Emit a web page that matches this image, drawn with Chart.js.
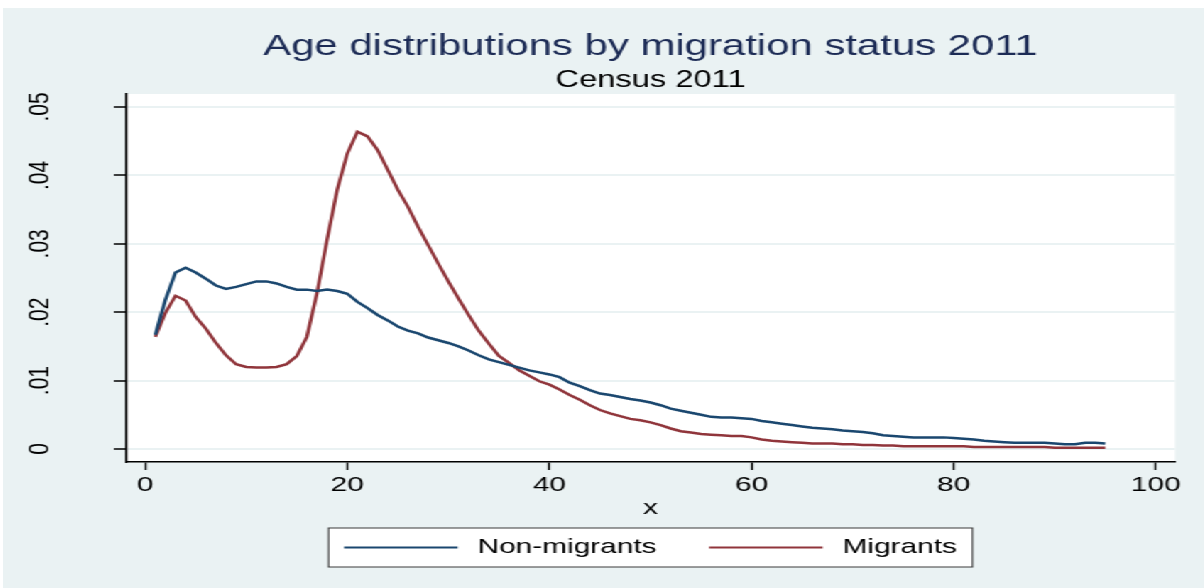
<!DOCTYPE html>
<html>
<head>
<meta charset="utf-8">
<title>Age distributions by migration status 2011</title>
<script src="https://cdn.jsdelivr.net/npm/chart.js@4.4.1/dist/chart.umd.min.js"></script>
<style>
    html, body { margin: 0; padding: 0; background: #ffffff; }
    body { width: 1204px; height: 588px; overflow: hidden; position: relative; }
    /* graph is laid out narrow and stretched sideways, like the exported graph */
    #wrap {
        position: absolute; left: 3px; top: 8px;
        width: 846px; height: 580px;
        background: #eaf2f3;
        transform: scaleX(1.42); transform-origin: 0 0;
    }
</style>
</head>
<body>
<div id="wrap"><canvas id="ageChart"></canvas></div>
<script>
// --- Data: kernel density of age, by migration status ---
const ages = [];
for (let a = 1; a <= 95; a++) ages.push(a);

const nonMigrants = [
    0.0167, 0.0218, 0.0258, 0.0265, 0.0258, 0.0249, 0.0239, 0.0234, 0.0237, 0.0241,
    0.0245, 0.0245, 0.0242, 0.0237, 0.0233, 0.0233, 0.0231, 0.0233, 0.0231, 0.0227,
    0.0215, 0.0206, 0.0196, 0.0188, 0.0179, 0.0173, 0.0169, 0.0163, 0.0159, 0.0155,
    0.0150, 0.0144, 0.0137, 0.0131, 0.0127, 0.0123, 0.0119, 0.0115, 0.0112, 0.0109,
    0.0105, 0.0097, 0.0092, 0.0086, 0.0081, 0.0079, 0.0076, 0.0073, 0.0071, 0.0068,
    0.0064, 0.0059, 0.0056, 0.0053, 0.0050, 0.0047, 0.0046, 0.0046, 0.0045, 0.0044,
    0.0041, 0.0039, 0.0037, 0.0035, 0.0033, 0.0031, 0.0030, 0.0029, 0.0027, 0.0026,
    0.0025, 0.0023, 0.0020, 0.0019, 0.0018, 0.0017, 0.0017, 0.0017, 0.0017, 0.0016,
    0.0015, 0.0014, 0.0012, 0.0011, 0.0010, 0.0009, 0.0009, 0.0009, 0.0009, 0.0008,
    0.0007, 0.0007, 0.0009, 0.0009, 0.0008
];

const migrants = [
    0.0164, 0.0199, 0.0224, 0.0217, 0.0193, 0.0176, 0.0155, 0.0137, 0.0124, 0.0120,
    0.0119, 0.0119, 0.0120, 0.0124, 0.0136, 0.0164, 0.0228, 0.0306, 0.0379, 0.0432,
    0.0464, 0.0457, 0.0437, 0.0408, 0.0379, 0.0354, 0.0325, 0.0298, 0.0271, 0.0245,
    0.0220, 0.0196, 0.0173, 0.0154, 0.0136, 0.0126, 0.0115, 0.0107, 0.0099, 0.0094,
    0.0087, 0.0079, 0.0072, 0.0064, 0.0057, 0.0052, 0.0048, 0.0044, 0.0042, 0.0039,
    0.0035, 0.0030, 0.0026, 0.0024, 0.0022, 0.0021, 0.0020, 0.0019, 0.0019, 0.0017,
    0.0014, 0.0012, 0.0011, 0.0010, 0.0009, 0.0008, 0.0008, 0.0008, 0.0007, 0.0007,
    0.0006, 0.0006, 0.0005, 0.0005, 0.0004, 0.0004, 0.0004, 0.0004, 0.0004, 0.0004,
    0.0004, 0.0003, 0.0003, 0.0003, 0.0003, 0.0003, 0.0003, 0.0003, 0.0003, 0.0002,
    0.0002, 0.0002, 0.0002, 0.0002, 0.0002
];

const seriesNames = ['Non-migrants', 'Migrants'];
const xTicks = [0, 20, 40, 60, 80, 100];
const yTicks = [0, 0.01, 0.02, 0.03, 0.04, 0.05];
const yTickLabels = ['0', '.01', '.02', '.03', '.04', '.05'];

const FONT = '"Liberation Sans", Arial, sans-serif';
const BLUE = '#1a476f';
const MAROON = '#90353b';

const toPoints = (vals) => vals.map((v, i) => ({ x: ages[i], y: v }));

// white plot region
const plotBackground = {
    id: 'plotBackground',
    beforeDraw(chart) {
        const { ctx, chartArea: a } = chart;
        ctx.save();
        ctx.fillStyle = '#ffffff';
        ctx.fillRect(a.left, a.top, a.right - a.left, a.bottom - a.top);
        ctx.restore();
    }
};

// vertical y tick labels (read bottom to top)
const yLabels = {
    id: 'yLabels',
    afterDraw(chart) {
        const { ctx } = chart;
        const y = chart.scales.y;
        ctx.save();
        ctx.font = '21px ' + FONT;
        ctx.fillStyle = '#000000';
        ctx.textAlign = 'center';
        ctx.textBaseline = 'middle';
        yTicks.forEach((v, i) => {
            ctx.save();
            ctx.translate(26, y.getPixelForValue(v));
            ctx.rotate(-Math.PI / 2);
            ctx.fillText(yTickLabels[i], 0, 0);
            ctx.restore();
        });
        ctx.restore();
    }
};

// boxed legend under the axis title
const boxLegend = {
    id: 'boxLegend',
    afterDraw(chart) {
        const { ctx, chartArea: a } = chart;
        const sets = chart.data.datasets;
        const pad = 11, lineLen = 80, gap = 14, itemGap = 37;
        ctx.save();
        ctx.font = '21px ' + FONT;
        const widths = sets.map(d => ctx.measureText(d.label).width);
        let total = pad * 2 + itemGap * (sets.length - 1);
        widths.forEach(w => { total += lineLen + gap + w; });
        const left = (a.left + a.right) / 2 - total / 2;
        const top = 520, h = 39;
        ctx.fillStyle = '#ffffff';
        ctx.fillRect(left, top, total, h);
        ctx.strokeStyle = '#3a3a3a';
        ctx.lineWidth = 1;
        ctx.strokeRect(left, top, total, h);
        let x = left + pad;
        const cy = top + h / 2;
        sets.forEach((d, i) => {
            ctx.strokeStyle = d.borderColor;
            ctx.lineWidth = 2;
            ctx.beginPath();
            ctx.moveTo(x, cy);
            ctx.lineTo(x + lineLen, cy);
            ctx.stroke();
            x += lineLen + gap;
            ctx.fillStyle = '#000000';
            ctx.textAlign = 'left';
            ctx.textBaseline = 'middle';
            ctx.fillText(d.label, x, cy);
            x += widths[i] + itemGap;
        });
        ctx.restore();
    }
};

new Chart(document.getElementById('ageChart'), {
    type: 'line',
    data: {
        datasets: [
            {
                label: seriesNames[0],
                data: toPoints(nonMigrants),
                borderColor: BLUE,
                backgroundColor: BLUE,
                borderWidth: 2.5,
                pointRadius: 0,
                tension: 0
            },
            {
                label: seriesNames[1],
                data: toPoints(migrants),
                borderColor: MAROON,
                backgroundColor: MAROON,
                borderWidth: 2.5,
                pointRadius: 0,
                tension: 0
            }
        ]
    },
    options: {
        responsive: true,
        maintainAspectRatio: false,
        animation: false,
        devicePixelRatio: 1,
        layout: { padding: { top: 10, right: 20.6, bottom: 0, left: 0 } },
        plugins: {
            legend: { display: false },
            tooltip: { enabled: false },
            title: {
                display: true,
                fullSize: false,
                text: 'Age distributions by migration status 2011',
                color: '#1c2b55',
                font: { family: FONT, size: 29.5, weight: 'normal' },
                padding: { top: 11.3, bottom: 0 }
            },
            subtitle: {
                display: true,
                fullSize: false,
                text: 'Census 2011',
                color: '#000000',
                font: { family: FONT, size: 23, weight: 'normal' },
                padding: { top: 1.7, bottom: 0 }
            }
        },
        scales: {
            x: {
                type: 'linear',
                min: -1.9,
                max: 101.9,
                afterBuildTicks: (s) => { s.ticks = xTicks.map(v => ({ value: v })); },
                afterFit: (s) => { s.height = 126; },
                ticks: {
                    color: '#000000',
                    padding: 3,
                    maxRotation: 0,
                    font: { family: FONT, size: 21 },
                    callback: (v) => String(v)
                },
                grid: {
                    drawOnChartArea: false,
                    drawTicks: true,
                    tickLength: 8,
                    tickColor: '#000000',
                    tickWidth: 1.4
                },
                border: { display: true, color: '#000000', width: 1.5 },
                title: {
                    display: true,
                    text: 'x',
                    color: '#000000',
                    font: { family: FONT, size: 21 },
                    padding: { top: 0, bottom: 67.4 }
                }
            },
            y: {
                min: -0.0019,
                max: 0.0519,
                afterBuildTicks: (s) => { s.ticks = yTicks.map(v => ({ value: v })); },
                afterFit: (s) => { s.width = 86.6; },
                ticks: { display: false },
                grid: {
                    color: '#eaf2f3',
                    lineWidth: 2,
                    drawTicks: true,
                    tickLength: 8.5,
                    tickColor: '#000000',
                    tickWidth: 1.5
                },
                border: { display: true, color: '#000000', width: 1.5 }
            }
        }
    },
    plugins: [plotBackground, yLabels, boxLegend]
});
</script>
</body>
</html>
